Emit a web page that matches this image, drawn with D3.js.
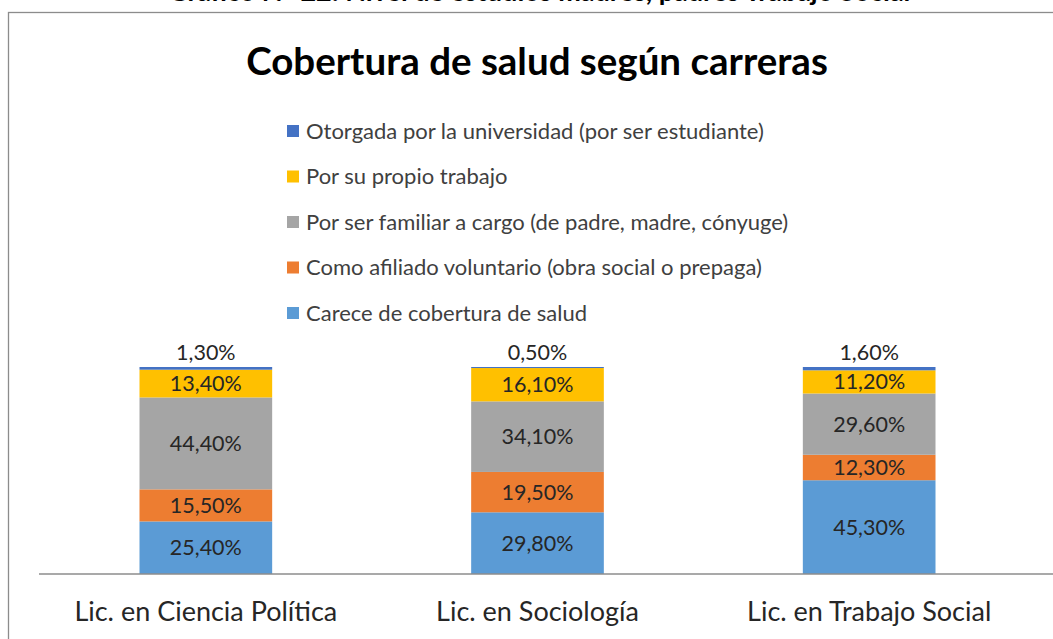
<!DOCTYPE html>
<html>
<head>
<meta charset="utf-8">
<script src="https://cdn.jsdelivr.net/npm/d3@7"></script>
<style>
  body { margin: 0; background: #fff; }
  svg { display: block; font-family: Lato, "Open Sans", sans-serif; }
</style>
</head>
<body>
<svg width="1053" height="639"></svg>
<script>
// Careers (x categories)
const carreras = ["Lic. en Ciencia Política", "Lic. en Sociología", "Lic. en Trabajo Social"];

// Series, from bottom of the stack to top
const series = [
  "Carece de cobertura de salud",
  "Como afiliado voluntario (obra social o prepaga)",
  "Por ser familiar a cargo (de padre, madre, cónyuge)",
  "Por su propio trabajo",
  "Otorgada por la universidad (por ser estudiante)"
];
const colores = ["#5B9BD5", "#ED7D31", "#A5A5A5", "#FFC000", "#4472C4"];

// percentages, one array per series (same order as carreras)
const carece    = [25.4, 29.8, 45.3];
const afiliado  = [15.5, 19.5, 12.3];
const familiar  = [44.4, 34.1, 29.6];
const trabajo   = [13.4, 16.1, 11.2];
const otorgada  = [1.3, 0.5, 1.6];

const titulo = "Cobertura de salud según carreras";
const tituloCortado = "Gráfico N° 22: Nivel de estudios madres, padres Trabajo Social";

const svg = d3.select("svg");
const fmt = v => d3.format(".2f")(v).replace(".", ",") + "%";

// rows for d3.stack
const rows = carreras.map((c, i) => ({
  carrera: c,
  [series[0]]: carece[i],
  [series[1]]: afiliado[i],
  [series[2]]: familiar[i],
  [series[3]]: trabajo[i],
  [series[4]]: otorgada[i]
}));
const stacked = d3.stack().keys(series)(rows);

const x = d3.scaleBand().domain(carreras).range([40, 1035]).paddingInner(0.6).paddingOuter(0.3);
const y = d3.scaleLinear().domain([0, 100]).range([574, 367]);
const color = d3.scaleOrdinal().domain(series).range(colores);

// caption of the page above, cut off by the crop
svg.append("text")
  .attr("x", 168).attr("y", 1)
  .attr("font-weight", "bold").attr("font-size", 27)
  .attr("fill", "#000")
  .text(tituloCortado);

// chart frame
svg.append("rect")
  .attr("x", 8.5).attr("y", 12.5)
  .attr("width", 1100).attr("height", 700)
  .attr("fill", "#fff")
  .attr("stroke", "#8c8c8c").attr("stroke-width", 1.3);

svg.append("text")
  .attr("x", 537).attr("y", 75)
  .attr("text-anchor", "middle")
  .attr("font-weight", "bold").attr("font-size", 38.5)
  .attr("fill", "#000")
  .text(titulo);

// legend, top entry is the last series
const legend = svg.append("g")
  .selectAll("g")
  .data(series.slice().reverse())
  .enter().append("g")
  .attr("transform", (d, i) => `translate(287, ${131 + i * 45.5})`);
legend.append("rect")
  .attr("x", 0).attr("y", -6)
  .attr("width", 12).attr("height", 12)
  .attr("fill", d => color(d));
legend.append("text")
  .attr("x", 19).attr("y", 0)
  .attr("dy", "0.35em")
  .attr("font-size", 22)
  .attr("fill", "#404040")
  .text(d => d);

// bars
const layers = svg.append("g")
  .selectAll("g")
  .data(stacked)
  .enter().append("g")
  .attr("fill", d => color(d.key));
layers.selectAll("rect")
  .data(d => d)
  .enter().append("rect")
  .attr("x", d => x(d.data.carrera))
  .attr("y", d => y(d[1]))
  .attr("width", x.bandwidth())
  .attr("height", d => y(d[0]) - y(d[1]));

// value labels
layers.selectAll("text")
  .data(d => d.map(p => Object.assign({ key: d.key }, p)))
  .enter().append("text")
  .attr("x", d => x(d.data.carrera) + x.bandwidth() / 2)
  .attr("y", d => d.key === series[4] ? y(d[1]) - 15 : (y(d[0]) + y(d[1])) / 2)
  .attr("dy", "0.35em")
  .attr("text-anchor", "middle")
  .attr("font-size", 21.5)
  .attr("fill", "#262626")
  .text(d => fmt(d.data[d.key]));

// x axis
const xAxis = svg.append("g")
  .attr("transform", "translate(0,574)")
  .call(d3.axisBottom(x).tickSize(0).tickPadding(28));
xAxis.select(".domain").attr("stroke", "#8c8c8c").attr("stroke-width", 1.3)
  .attr("d", "M39,0H1053");
xAxis.selectAll("text")
  .attr("font-family", "Lato, sans-serif")
  .attr("font-size", 27)
  .attr("fill", "#262626");
</script>
</body>
</html>
